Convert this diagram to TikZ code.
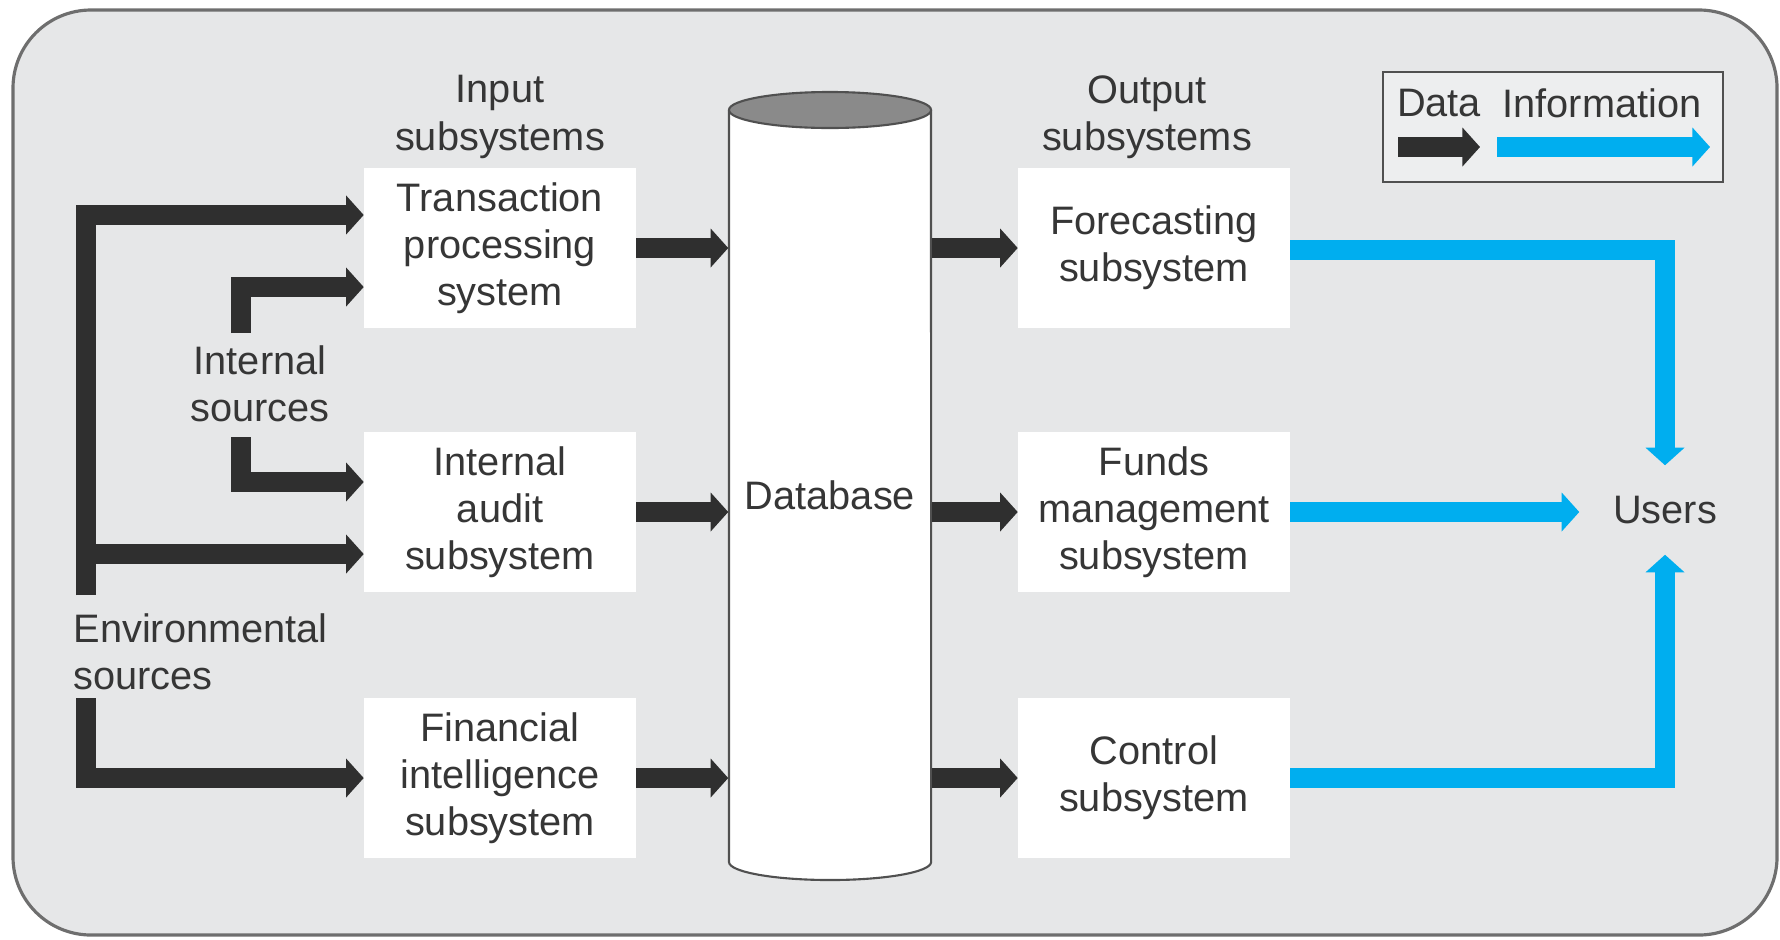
\documentclass[tikz,border=0pt]{standalone}
\usepackage{fontspec}
\setmainfont{Liberation Sans}
\usetikzlibrary{arrows.meta,calc}
\definecolor{panel}{HTML}{E6E7E8}
\definecolor{rim}{HTML}{6E6E6E}
\definecolor{edge}{HTML}{505050}
\definecolor{ink}{HTML}{363636}
\definecolor{dataarrow}{HTML}{2F2F2F}
\definecolor{infoarrow}{HTML}{00AEEF}
\definecolor{lid}{HTML}{8A8A8A}
\begin{document}
\begin{tikzpicture}[x=0.01cm,y=-0.01cm,
  txt/.style={font=\fontsize{11.3}{13.4}\selectfont, text=ink, align=center, inner sep=0pt},
  box/.style={txt, fill=white, minimum width=2.71cm, minimum height=1.6cm},
  data/.style={draw=dataarrow, line width=5.7pt, line join=miter, -{Triangle[width=10.8pt,length=5pt]}},
  info/.style={draw=infoarrow, line width=5.7pt, line join=miter, -{Triangle[width=10.8pt,length=5pt]}},
]
\useasboundingbox (0,0) rectangle (1780,939);
% panel
\draw[rim, line width=0.9pt, fill=panel, rounded corners=0.78cm] (13,10) rectangle (1777,935);

% column headings
\node[txt] (inlbl) at (500,117) {Input\\subsystems};
\node[txt] (outlbl) at (1147,117) {Output\\subsystems};

% subsystem boxes
\node[box] (tps) at (500,248) {Transaction\\processing\\system};
\node[box] (ias) at (500,512) {Internal\\audit\\subsystem};
\node[box] (fis) at (500,778) {Financial\\intelligence\\subsystem};
\node[box] (fcs) at (1154,248) {Forecasting\\subsystem};
\node[box] (fms) at (1154,512) {Funds\\management\\subsystem};
\node[box] (ctl) at (1154,778) {Control\\subsystem};

% database cylinder
\path[fill=white, draw=edge, line width=0.6pt] (729,110) -- (729,862)
  arc[start angle=180, end angle=360, x radius=1.01cm, y radius=0.18cm] -- (931,110);
\draw[fill=lid, draw=edge, line width=0.6pt] (830,110) ellipse [x radius=1.01cm, y radius=0.18cm];
\node[txt, minimum width=2.02cm, minimum height=7.7cm] (db) at (830,495) {Database};

% sources and users
\node[txt] (intsrc) at (260,384) {Internal\\sources};
\node[txt, align=left, anchor=west] (envsrc) at (73,652) {Environmental\\sources};
\node[txt, minimum width=1.7cm, minimum height=0.88cm] (users) at (1665,510) {Users};

\coordinate (envA) at (86,595);
\coordinate (envB) at (86,698);
\coordinate (intA) at (241,333);
\coordinate (intB) at (241,437);

\draw[data] (envA) |- ([yshift=0.33cm]tps.west);
\draw[data] (envA) |- ([yshift=-0.42cm]ias.west);
\draw[data] (envB) |- (fis.west);
\draw[data] (intA) |- ([yshift=-0.39cm]tps.west);
\draw[data] (intB) |- ([yshift=0.30cm]ias.west);

% into and out of the database
\draw[data] (tps.east) -- (tps.east -| db.west);
\draw[data] (ias.east) -- (ias.east -| db.west);
\draw[data] (fis.east) -- (fis.east -| db.west);
\draw[data] (db.east |- fcs.west) -- (fcs.west);
\draw[data] (db.east |- fms.west) -- (fms.west);
\draw[data] (db.east |- ctl.west) -- (ctl.west);

% information to users
\draw[info] ([yshift=-0.02cm]fcs.east) -| (users.north);
\draw[info] (fms.east) -- (fms.east -| users.west);
\draw[info] (ctl.east) -| (users.south);

% legend
\node[draw=edge, line width=0.6pt, fill=panel!70!white, minimum width=3.4cm, minimum height=1.1cm, inner sep=0pt] (legend) at (1553,127) {};
\node[txt] (ldata) at (1439,103) {Data};
\node[txt] (linfo) at (1602,103) {Information};
\coordinate (ld1) at (1398,147);
\coordinate (ld2) at (1480,147);
\coordinate (li1) at (1497,147);
\coordinate (li2) at (1710,147);
\draw[data] (ld1) -- (ld2);
\draw[info] (li1) -- (li2);
\end{tikzpicture}
\end{document}
